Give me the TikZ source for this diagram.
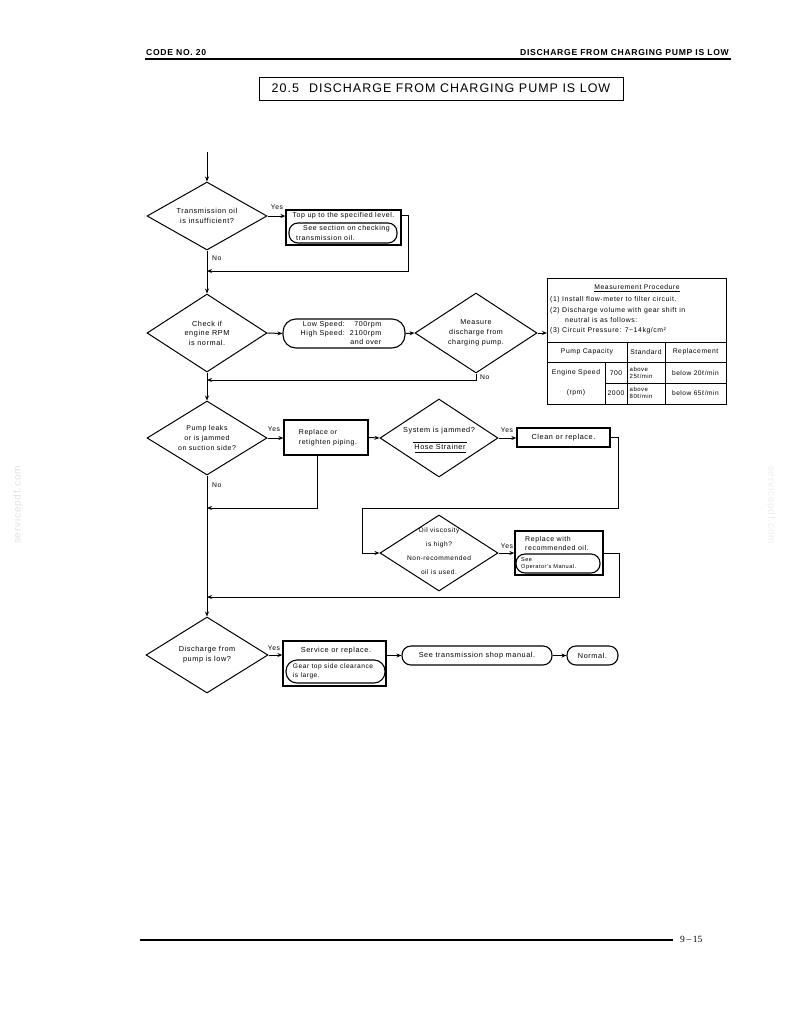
\documentclass[tikz,border=0pt]{standalone}
\usepackage{fontspec}
\setmainfont{Liberation Sans}[LetterSpace=8]
\newfontfamily\pagefont{Liberation Serif}
\usetikzlibrary{arrows.meta,shapes.geometric}
\tikzset{
  txt/.style={inner sep=0pt, align=center, font=\fontsize{7.3}{10}\selectfont},
  ltxt/.style={inner sep=0pt, align=left, font=\fontsize{7.3}{10}\selectfont},
  ttxt/.style={inner sep=0pt, align=center, font=\fontsize{6.8}{10}\selectfont},
  tltxt/.style={inner sep=0pt, align=left, font=\fontsize{6.9}{10}\selectfont},
  dia/.style 2 args={draw, shape=diamond, line width=1pt, inner sep=0pt, minimum width=#1, minimum height=#2},
  boxx/.style 2 args={draw, rectangle, line width=1.3pt, inner sep=0pt, minimum width=#1, minimum height=#2},
  pill/.style 2 args={draw, rectangle, rounded corners=9pt, line width=1.1pt, inner sep=0pt, minimum width=#1, minimum height=#2},
  arr/.style={line width=1pt, -{Stealth[length=5pt,width=4pt]}},
  ln/.style={line width=1pt},
  yes/.style={inner sep=0pt, font=\fontsize{6.8}{8}\selectfont}
}
\begin{document}
\begin{tikzpicture}[x=1pt,y=-1pt]
\useasboundingbox (0,0) rectangle (794,1028);
% watermarks
\node[rotate=90, text=black!12, font=\fontsize{10}{12}\selectfont] (wm1) at (18,505) {servicepdf.com};
\node[rotate=-90, text=black!7, font=\fontsize{10}{12}\selectfont] (wm2) at (771,505) {servicepdf.com};
% header
\node[anchor=base west, inner sep=0pt, font=\bfseries\fontsize{8.6}{9}\selectfont] (code) at (146,55) {CODE NO. 20};
\node[anchor=base east, inner sep=0pt, font=\bfseries\fontsize{8.6}{9}\selectfont] (hdr) at (729,55) {DISCHARGE FROM CHARGING PUMP IS LOW};
\coordinate (hl1) at (145,59);
\coordinate (hl2) at (731,59);
\draw[line width=1.6pt] (hl1) -- (hl2);
\node[draw, line width=1pt, minimum width=364, minimum height=23, inner sep=0pt, font=\fontsize{12.5}{14}\selectfont] (title) at (441,88.5) {20.5\hspace{0.8em}DISCHARGE FROM CHARGING PUMP IS LOW};

% row 1
\coordinate (start) at (207,152);
\node[dia={120}{68}] (d1) at (207,216) {};
\node[txt] (d1t) at (d1) {Transmission oil\\is insufficient?};
\draw[arr] (start) -- (d1.north);
\node[boxx={115}{35}] (b1) at (343.5,227.5) {};
\node[txt, anchor=base, font=\fontsize{7}{10}\selectfont] (b1t) at (343.5,217.5) {Top up to the specified level.};
\node[pill={108}{20}] (r1) at (343,233) {};
\node[ltxt, font=\fontsize{7}{9.5}\selectfont] (r1t) at (343,233) {\hspace*{7pt}See section on checking\\transmission oil.};
\node[yes] (y1) at (277,207) {Yes};
\draw[arr] (d1.east) -- (d1.east -| b1.west);
\coordinate (j1) at (207,271);
\coordinate (c1) at (408,215);
\draw[ln] (b1.east |- c1) -- (c1);
\draw[arr] (c1) |- (j1);
\node[yes, anchor=west] (n1) at (212,258) {No};

% row 2
\node[dia={120}{78}] (d2) at (207,333) {};
\node[txt, font=\fontsize{7.3}{9.5}\selectfont] (d2t) at (d2) {Check if\\engine RPM\\is normal.};
\draw[arr] (d1.south) -- (d2.north);
\node[pill={122}{29}, rounded corners=13pt] (r2) at (344,333.5) {};
\node[inner sep=0pt, font=\fontsize{7.1}{9}\selectfont] (r2t) at (341,333.5) {\begin{tabular}{@{}r@{\hspace{5pt}}r@{}}Low Speed: & 700rpm\\ High Speed: & 2100rpm\\ & and over\end{tabular}};
\draw[arr] (d2.east) -- (r2.west);
\node[dia={122}{80}] (d3) at (476,333) {};
\node[txt, font=\fontsize{7.1}{10}\selectfont] (d3t) at (d3) {Measure\\discharge from\\charging pump.};
\draw[arr] (r2.east) -- (d3.west);
% table
\node[draw, line width=1pt, rectangle, inner sep=0pt, minimum width=179, minimum height=126, anchor=north west] (tab) at (547,278) {};
\draw[arr] (d3.east) -- (d3.east -| tab.west);
\coordinate (h1) at (547,342);
\coordinate (h2) at (547,362);
\coordinate (h3) at (605,383);
\coordinate (v1) at (605,362);
\coordinate (v2) at (627,342);
\coordinate (v3) at (665,342);
\draw[ln] (h1) -- (h1 -| tab.east);
\draw[ln] (h2) -- (h2 -| tab.east);
\draw[ln] (h3) -- (h3 -| tab.east);
\draw[ln] (v1) -- (v1 |- tab.south);
\draw[ln] (v2) -- (v2 |- tab.south);
\draw[ln] (v3) -- (v3 |- tab.south);
\node[ttxt] (mp) at (637,288) {\underline{Measurement Procedure}};
\node[tltxt, anchor=west] (m1) at (550,300) {(1) Install flow-meter to filter circuit.};
\node[tltxt, anchor=west] (m2) at (550,311) {(2) Discharge volume with gear shift in};
\node[tltxt, anchor=west] (m3) at (565,320) {neutral is as follows:};
\node[tltxt, anchor=west] (m4) at (550,331) {(3) Circuit Pressure: 7\textasciitilde 14kg/cm²};
\node[ttxt] (tc1) at (587,352) {Pump Capacity};
\node[ttxt] (tc2) at (646,352) {Standard};
\node[ttxt] (tc3) at (695.5,352) {Replacement};
\node[ttxt] (es) at (576,373) {Engine Speed};
\node[ttxt] (rpm) at (576,393) {(rpm)};
\node[ttxt] (s1) at (616,373) {700};
\node[ttxt] (s2) at (616,393) {2000};
\node[tltxt, font=\fontsize{6}{6.5}\selectfont, anchor=west] (a1) at (629.5,373) {above\\25ℓ/min};
\node[tltxt, font=\fontsize{6}{6.5}\selectfont, anchor=west] (a2) at (629.5,393) {above\\80ℓ/min};
\node[ttxt, font=\fontsize{6.6}{8}\selectfont] (bl1) at (695.5,373) {below 20ℓ/min};
\node[ttxt, font=\fontsize{6.6}{8}\selectfont] (bl2) at (695.5,393) {below 65ℓ/min};
\node[yes, anchor=west] (n3) at (480,377) {No};
\coordinate (j2) at (207,380);
\draw[arr] (d3.south) |- (j2);

% row 3
\node[dia={120}{74}] (d4) at (207,438) {};
\node[txt, font=\fontsize{7}{10}\selectfont] (d4t) at (d4) {Pump leaks\\or is jammed\\on suction side?};
\draw[arr] (d2.south) -- (d4.north);
\node[yes] (y4) at (274,429) {Yes};
\node[boxx={84}{35}] (b3) at (326,437.5) {};
\node[ltxt, font=\fontsize{7}{10}\selectfont] (b3t) at (328,437.5) {Replace or\\retighten piping.};
\draw[arr] (d4.east) -- (d4.east -| b3.west);
\coordinate (j3) at (207,508);
\draw[arr] ([xshift=-9pt]b3.south) |- (j3);
\node[yes, anchor=west] (n4) at (212,485) {No};
\node[dia={118}{78}] (d5) at (439,438) {};
\node[txt, anchor=base] (d5t) at (439,432) {System is jammed?};
\node[txt, anchor=base] (d5u) at (440,449) {Hose Strainer};
\coordinate (u1) at (413,442);
\coordinate (u2) at (467,442);
\draw[line width=0.7pt] (u1) -- (u2);
\coordinate (u3) at (415,452);
\coordinate (u4) at (466,452);
\draw[line width=0.7pt] (u3) -- (u4);
\draw[arr] (b3.east) -- (d5.west);
\node[yes] (y5) at (507,430) {Yes};
\node[boxx={93}{19}] (b4) at (563.5,437.5) {};
\node[txt] (b4t) at (b4) {Clean or replace.};
\draw[arr] (d5.east) -- (d5.east -| b4.west);
\coordinate (k1) at (618,508);
\coordinate (k2) at (362,508);
\node[dia={118}{76}] (d6) at (439,553) {};
\node[txt, font=\fontsize{6.6}{14}\selectfont] (d6t) at (439,551) {Oil viscosity\\is high?\\Non-recommended\\oil is used.};
\draw[arr] (b4.east) -| (k1) -- (k2) |- (d6.west);
\node[yes] (y6) at (507,546) {Yes};
\node[boxx={88}{44}] (b5) at (559,553) {};
\node[ltxt, font=\fontsize{7}{9.5}\selectfont, anchor=north west] (b5t) at (525,536) {Replace with\\recommended oil.};
\node[pill={84}{19}] (r5) at (558,563.5) {};
\node[ltxt, font=\fontsize{5.6}{7}\selectfont, anchor=west] (r5t) at (521,563.5) {See\\Operator's Manual.};
\draw[arr] (d6.east) -- (d6.east -| b5.west);
\coordinate (j5) at (207,597);
\draw[arr] (b5.east) -- ++(16,0) |- (j5);

% row 4
\node[dia={122}{76}] (d7) at (207,655) {};
\node[txt] (d7t) at (d7) {Discharge from\\pump is low?};
\draw[arr] (d4.south) -- (d7.north);
\node[yes] (y7) at (274,648) {Yes};
\node[boxx={103}{45}] (b6) at (334.5,663.5) {};
\node[txt] (b6t) at (336,651) {Service or replace.};
\node[pill={99}{23}, rounded corners=11pt] (r6) at (335.5,671.5) {};
\node[ltxt, font=\fontsize{6.6}{9.5}\selectfont] (r6t) at (333,671.5) {Gear top side clearance\\is large.};
\draw[arr] (d7.east) -- (d7.east -| b6.west);
\node[pill={150}{19}] (r7) at (477,655.5) {};
\node[txt] (r7t) at (r7) {See transmission shop manual.};
\draw[arr] (r7.west -| b6.east) -- (r7.west);
\node[pill={51}{19}] (r8) at (592.5,655.5) {};
\node[txt] (r8t) at (r8) {Normal.};
\draw[arr] (r7.east) -- (r8.west);

% footer
\coordinate (f1) at (140,940);
\coordinate (f2) at (673,940);
\draw[line width=1.1pt] (f1) -- (f2);
\node[anchor=west, inner sep=0pt, font=\pagefont\fontsize{9.5}{11}\selectfont] (pg) at (680,939) {9\,–\,15};
\end{tikzpicture}
\end{document}
